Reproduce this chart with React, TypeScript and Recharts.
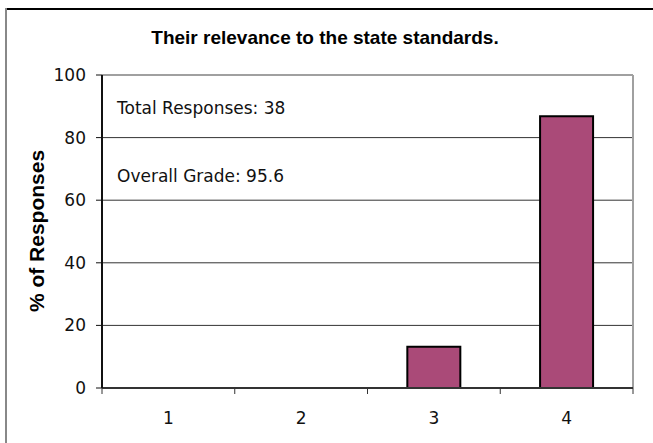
import React from "react";
import { BarChart, Bar, XAxis, YAxis, CartesianGrid } from "recharts";

const categories = ["1", "2", "3", "4"];
const percentValues = [0, 0, 13.2, 86.8];
const yTicks = [0, 20, 40, 60, 80, 100];
const titleText = "Their relevance to the state standards.";
const yLabelText = "% of Responses";
const notes = ["Total Responses: 38", "Overall Grade: 95.6"];

const data = categories.map((c, i) => ({ cat: c, pct: percentValues[i] }));

const W = 653;
const H = 443;
const M = { top: 75, right: 20, bottom: 0, left: 0 };
const YW = 102;
const XH = 55;
const PLOT_W = W - M.left - M.right - YW;
const STEP = PLOT_W / categories.length;
const FONT = "'DejaVu Sans', Verdana, sans-serif";
const BOLD_FONT = "'Liberation Sans', Arial, sans-serif";

const XTick = (props: any) => {
  const { x, y, payload, index } = props;
  const left = x - STEP / 2;
  const isLast = index === categories.length - 1;
  return (
    <g>
      <line x1={left} y1={y} x2={left} y2={y + 6} stroke="#333" strokeWidth={1} />
      {isLast && (
        <line x1={x + STEP / 2} y1={y} x2={x + STEP / 2} y2={y + 6} stroke="#333" strokeWidth={1} />
      )}
      <text x={x} y={y + 36} textAnchor="middle" fontFamily={FONT} fontSize={17} fill="#111">
        {payload.value}
      </text>
    </g>
  );
};

export default function App() {
  return (
    <div style={{ position: "absolute", left: 0, top: 0, width: W, height: H, background: "#fff" }}>
      <BarChart width={W} height={H} data={data} margin={M} barCategoryGap="30%">
        <CartesianGrid vertical={false} stroke="#333" strokeWidth={1} />
        <CartesianGrid
          horizontalCoordinatesGenerator={({ offset }: any) => [offset.top]}
          verticalCoordinatesGenerator={({ offset }: any) => [offset.left + offset.width]}
          stroke="#a0a0a0"
          strokeWidth={2}
        />
        <XAxis
          dataKey="cat"
          height={XH}
          axisLine={{ stroke: "#333", strokeWidth: 2 }}
          tickLine={false}
          tickSize={0}
          tickMargin={0}
          tick={<XTick />}
          interval={0}
        />
        <YAxis
          domain={[0, 100]}
          ticks={yTicks}
          width={YW}
          axisLine={{ stroke: "#111", strokeWidth: 2 }}
          tickLine={{ stroke: "#111" }}
          tickSize={6}
          tickMargin={10}
          tick={{ fontFamily: FONT, fontSize: 17, fill: "#111" }}
        />
        <Bar dataKey="pct" fill="#aa4a78" stroke="#000" strokeWidth={2} isAnimationActive={false} />
      </BarChart>
      <svg width={W} height={H} style={{ position: "absolute", left: 0, top: 0, pointerEvents: "none" }}>
        <line x1={5} y1={9} x2={W} y2={9} stroke="#000" strokeWidth={2} />
        <line x1={6} y1={8} x2={6} y2={H} stroke="#888" strokeWidth={2} />
        <text x={325} y={44} textAnchor="middle" fontFamily={BOLD_FONT} fontWeight="bold" fontSize={19} fill="#000">
          {titleText}
        </text>
        <text
          x={44}
          y={231}
          textAnchor="middle"
          transform="rotate(-90 44 231)"
          fontFamily={BOLD_FONT}
          fontWeight="bold"
          fontSize={21}
          fill="#000"
        >
          {yLabelText}
        </text>
        <text x={117} y={114} fontFamily={FONT} fontSize={17} fill="#111">{notes[0]}</text>
        <text x={117} y={182} fontFamily={FONT} fontSize={17} fill="#111">{notes[1]}</text>
      </svg>
    </div>
  );
}
